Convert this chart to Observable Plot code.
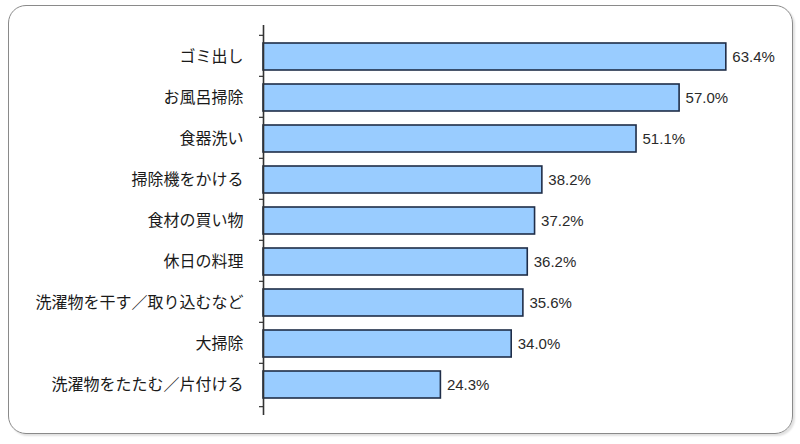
<!DOCTYPE html>
<html>
<head>
<meta charset="utf-8">
<script src="https://cdn.jsdelivr.net/npm/d3@7"></script>
<script src="https://cdn.jsdelivr.net/npm/@observablehq/plot@0.6"></script>
<style>
  html, body { margin: 0; padding: 0; background: #fff; }
  #wrap { position: relative; width: 800px; height: 444px; overflow: hidden; }
  #border {
    position: absolute; left: 8px; top: 5px; width: 783px; height: 427px;
    border: 1.5px solid #8a8a8a; border-radius: 18px;
    box-shadow: 2px 2px 2px rgba(0,0,0,0.12);
  }
  #chart { position: absolute; left: 0; top: 0; }
</style>
</head>
<body>
<div id="wrap"><div id="border"></div><div id="chart"></div></div>
<script>
const categories = [
  "ゴミ出し",
  "お風呂掃除",
  "食器洗い",
  "掃除機をかける",
  "食材の買い物",
  "休日の料理",
  "洗濯物を干す／取り込むなど",
  "大掃除",
  "洗濯物をたたむ／片付ける"
];
const values = [63.4, 57.0, 51.1, 38.2, 37.2, 36.2, 35.6, 34.0, 24.3];

const data = categories.map((c, i) => ({category: c, value: values[i]}));

const H = 444, mTop = 25, mBottom = 29;
const step = (H - mTop - mBottom) / categories.length;

const plot = Plot.plot({
  width: 800,
  height: H,
  marginLeft: 263,
  marginRight: 26,
  marginTop: mTop,
  marginBottom: mBottom,
  style: {fontFamily: "'Noto Sans CJK JP', 'Noto Sans', sans-serif", background: "transparent"},
  x: {domain: [0, 70], axis: null},
  y: {domain: categories, padding: 0.35, label: null},
  marks: [
    Plot.barX(data, {
      x: "value", y: "category",
      fill: "#99ccff", stroke: "#1f2d48", strokeWidth: 1.6
    }),
    Plot.text(data, {
      x: "value", y: "category",
      text: d => d.value.toFixed(1) + "%",
      textAnchor: "start", dx: 6,
      fontSize: 15, fill: "#2a2a2a",
      fontFamily: "Arial, 'Liberation Sans', sans-serif"
    }),
    Plot.axisY({tickSize: 0, tickPadding: 20, fontSize: 16, fill: "#1a1a1a"}),
    // tick marks at band boundaries
    Plot.ruleY(categories, {y: d => d, dy: -step / 2, x1: -0.55, x2: 0, stroke: "#333", strokeWidth: 1.2}),
    Plot.ruleY(categories.slice(-1), {y: d => d, dy: step / 2, x1: -0.55, x2: 0, stroke: "#333", strokeWidth: 1.2}),
    Plot.ruleX([0], {stroke: "#333", strokeWidth: 1.6})
  ]
});
document.getElementById("chart").appendChild(plot);
</script>
</body>
</html>
